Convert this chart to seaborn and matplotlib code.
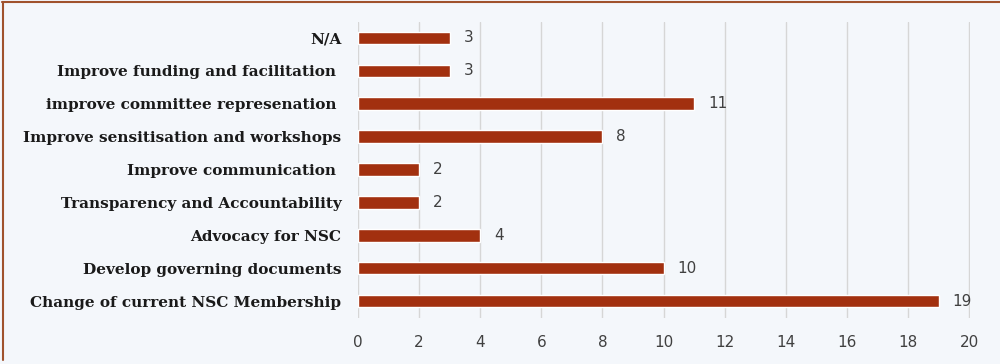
import matplotlib
matplotlib.use("Agg")
import matplotlib.pyplot as plt
import seaborn as sns
import pandas as pd
from matplotlib.lines import Line2D

categories = [
    "N/A",
    "Improve funding and facilitation ",
    "improve committee represenation ",
    "Improve sensitisation and workshops",
    "Improve communication ",
    "Transparency and Accountability",
    "Advocacy for NSC",
    "Develop governing documents",
    "Change of current NSC Membership",
]
values = [3, 3, 11, 8, 2, 2, 4, 10, 19]
xticks = [0, 2, 4, 6, 8, 10, 12, 14, 16, 18, 20]

df = pd.DataFrame({"category": categories, "value": values})

sns.set_theme(style="white")
bg = "#F4F7FB"
fig = plt.figure(figsize=(10, 3.64), dpi=100, facecolor=bg)
ax = fig.add_axes([0.358, 0.126, 0.612, 0.814])
ax.set_facecolor(bg)

sns.barplot(data=df, x="value", y="category", orient="h", color="#A2300F",
            width=0.38, saturation=1, ax=ax, zorder=3)

ax.set_xlim(0, 20.03)
ax.set_ylim(8.52, -0.49)
ax.set_xticks(xticks)
ax.set_xticklabels([str(t) for t in xticks], fontsize=11, color="#404040",
                   family="DejaVu Sans")
ax.tick_params(axis="x", length=0, pad=12)
ax.tick_params(axis="y", length=0, pad=12)
for lab in ax.get_yticklabels():
    lab.set_family("DejaVu Serif")
    lab.set_fontweight("bold")
    lab.set_fontsize(11)
    lab.set_color("#1a1a1a")
ax.set_xlabel("")
ax.set_ylabel("")
ax.grid(axis="x", color="#D6D6D6", linewidth=1, zorder=0)
for s in ax.spines.values():
    s.set_visible(False)

for i, v in enumerate(values):
    ax.text(v + 0.45, i, str(v), va="center", ha="left", fontsize=11,
            color="#404040", family="DejaVu Sans")

# figure border (top and left)
fig.add_artist(Line2D([0.002, 1.0], [0.994, 0.994], color="#A0522D",
                      linewidth=1.5, transform=fig.transFigure))
fig.add_artist(Line2D([0.003, 0.003], [0.994, 0.01], color="#A0522D",
                      linewidth=1.5, transform=fig.transFigure))

fig.savefig("out.png", dpi=100, facecolor=bg)
